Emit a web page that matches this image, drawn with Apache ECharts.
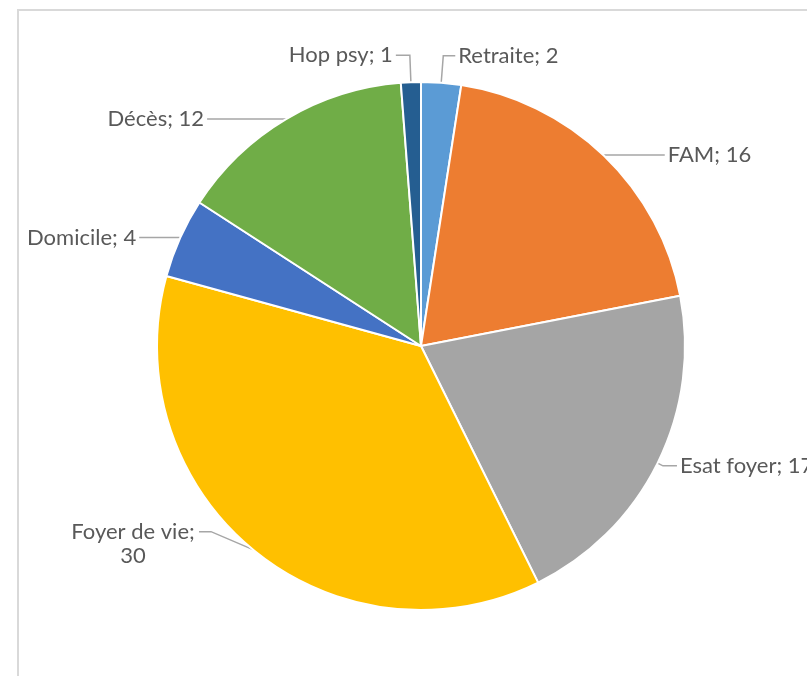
<!DOCTYPE html>
<html>
<head>
<meta charset="utf-8">
<script src="https://cdn.jsdelivr.net/npm/echarts@6/dist/echarts.min.js"></script>
<style>
html,body{margin:0;padding:0;background:#fff;}
#c{width:807px;height:676px;}
</style>
</head>
<body>
<div id="c"></div>
<script>
const categories = ['Retraite', 'FAM', 'Esat foyer', 'Foyer de vie', 'Domicile', 'Décès', 'Hop psy'];
const values = [2, 16, 17, 30, 4, 12, 1];
const colors = ['#5B9BD5', '#ED7D31', '#A5A5A5', '#FFC000', '#4472C4', '#70AD47', '#255E91'];
// leader line lengths [radial, horizontal]
const leaders = [[27, 12], [1, 60], [6, 14], [4, 50], [1, 40], [0, 79], [27, 14]];

const FONT = 'Lato, "Liberation Sans", sans-serif';
const chart = echarts.init(document.getElementById('c'), null, {renderer: 'canvas'});
const data = categories.map((name, i) => ({
  name: name,
  value: values[i],
  itemStyle: {color: colors[i]},
  labelLine: {length: leaders[i][0], length2: leaders[i][1]},
  label: name === 'Foyer de vie' ? {
    formatter: '{t|{b};}\n{t|{c}}',
    rich: {t: {width: 128, align: 'center', fontSize: 22, lineHeight: 24, color: '#595959', fontFamily: FONT}}
  } : {}
}));

chart.setOption({
  backgroundColor: '#fff',
  animation: false,
  graphic: [{
    type: 'rect',
    shape: {x: 18, y: 10, width: 820, height: 700},
    style: {fill: 'none', stroke: '#d9d9d9', lineWidth: 2},
    silent: true
  }],
  series: [{
    type: 'pie',
    center: [421, 346],
    radius: [0, 264],
    startAngle: 90,
    clockwise: true,
    avoidLabelOverlap: false,
    itemStyle: {borderColor: '#fff', borderWidth: 2},
    label: {
      show: true,
      position: 'outside',
      formatter: '{b}; {c}',
      color: '#595959',
      fontFamily: FONT,
      fontSize: 22,
      lineHeight: 26,
      distanceToLabelLine: 3
    },
    labelLine: {
      show: true,
      lineStyle: {color: '#a6a6a6', width: 1.5}
    },
    labelLayout: function (p) {
      if (categories[p.dataIndex] !== 'Foyer de vie' || !p.labelLinePoints) return null;
      const e = p.labelLinePoints[0];
      const bend = [e[0] - 42, e[1] - 18];
      const end = [e[0] - 54, e[1] - 18];
      const r = p.labelRect;
      const targetRight = end[0] - 2;
      const targetTop = end[1] - 12;
      return {
        dx: targetRight - (r.x + r.width),
        dy: targetTop - r.y,
        labelLinePoints: [e, bend, end]
      };
    },
    data: data
  }]
});
</script>
</body>
</html>
